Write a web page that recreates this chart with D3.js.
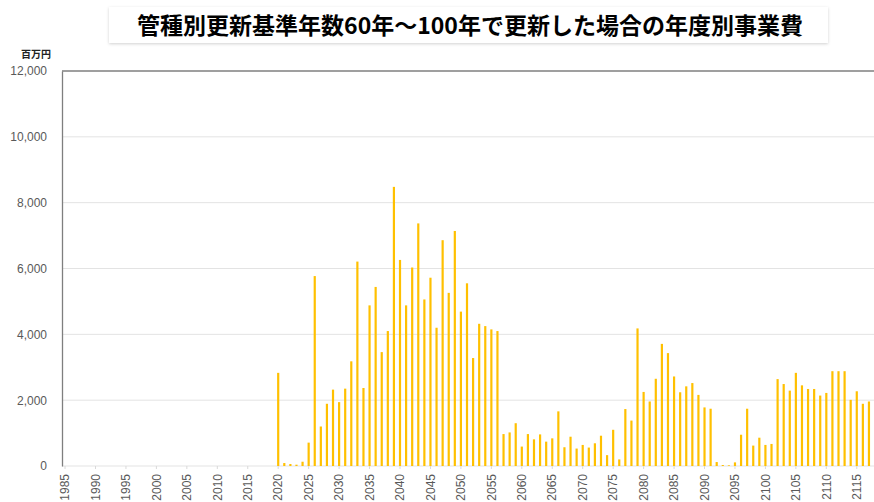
<!DOCTYPE html>
<html>
<head>
<meta charset="utf-8">
<script src="https://cdn.jsdelivr.net/npm/d3@7"></script>
<style>
  body { margin: 0; background: #fff; }
  svg { display: block; }
  .tick text { font-family: "Liberation Sans", Arial, sans-serif; fill: #595959; }
</style>
</head>
<body>
<svg id="chart"></svg>
<script>
// Size of the picture
const width = 874;
const height = 502;

// Chart texts
const titleText = "管種別更新基準年数60年～100年で更新した場合の年度別事業費";
const unitText = "百万円";

// Fiscal years (categories) 1985 - 2117
const years = d3.range(1985, 2118);

// Project cost per year (million yen), 1985 - 2019 : no renewal
const cost1985to2019 = [
  0, 0, 0, 0, 0, 0, 0, 0, 0, 0,
  0, 0, 0, 0, 0, 0, 0, 0, 0, 0,
  0, 0, 0, 0, 0, 0, 0, 0, 0, 0,
  0, 0, 0, 0, 0
];
// 2020 - 2117
const cost2020to2117 = [
  2830, 90, 60, 40, 130, 710, 5770, 1200, 1890, 2320,
  1940, 2350, 3180, 6210, 2370, 4880, 5440, 3460, 4100, 8480,
  6260, 4880, 6030, 7370, 5060, 5720, 4200, 6860, 5260, 7140,
  4690, 5550, 3280, 4320, 4250, 4150, 4100, 970, 1020, 1300,
  590, 970, 810, 960, 740, 840, 1660, 570, 890, 530,
  640, 560, 690, 920, 330, 1100, 200, 1730, 1380, 4180,
  2250, 1960, 2650, 3710, 3430, 2720, 2240, 2420, 2520, 2160,
  1780, 1740, 120, 30, 20, 110, 950, 1740, 620, 860,
  640, 670, 2640, 2490, 2290, 2830, 2450, 2340, 2340, 2140,
  2220, 2880, 2880, 2880, 2010, 2270, 1890, 1960
];
const costs = cost1985to2019.concat(cost2020to2117);

// Axis tick values
const yTicks = [0, 2000, 4000, 6000, 8000, 10000, 12000];
const xTickYears = years.filter(y => y % 5 === 0);

const data = years.map((y, i) => ({ year: y, value: costs[i] }));

// Plot area
const plotLeft = 62, plotRight = 872, plotTop = 71, plotBottom = 466;

const svg = d3.select("#chart")
    .attr("width", width)
    .attr("height", height);

// Title box with soft shadow
const defs = svg.append("defs");
const shadow = defs.append("filter").attr("id", "shadow")
    .attr("x", "-5%").attr("y", "-30%").attr("width", "110%").attr("height", "160%");
shadow.append("feDropShadow")
    .attr("dx", 0).attr("dy", 1).attr("stdDeviation", 1.5)
    .attr("flood-color", "#000").attr("flood-opacity", 0.18);

svg.append("rect")
    .attr("x", 109).attr("y", 7)
    .attr("width", 719).attr("height", 36)
    .attr("fill", "#fff")
    .attr("filter", "url(#shadow)");

svg.append("text")
    .attr("x", 470).attr("y", 34)
    .attr("text-anchor", "middle")
    .attr("font-family", "'Noto Sans CJK JP', sans-serif")
    .attr("font-weight", "bold")
    .attr("font-size", 23)
    .attr("fill", "#000")
    .text(titleText);

// Unit label
svg.append("text")
    .attr("x", 36).attr("y", 58)
    .attr("text-anchor", "middle")
    .attr("font-family", "'Noto Sans CJK JP', sans-serif")
    .attr("font-weight", "bold")
    .attr("font-size", 10)
    .attr("fill", "#222")
    .text(unitText);

// Scales
const x = d3.scaleBand()
    .domain(years)
    .range([plotLeft, plotRight])
    .paddingInner(0.64)
    .paddingOuter(0.32);

const y = d3.scaleLinear()
    .domain([0, 12000])
    .range([plotBottom, plotTop]);

// Horizontal grid lines
svg.append("g")
    .selectAll("line")
    .data(yTicks)
    .join("line")
    .attr("x1", plotLeft).attr("x2", width)
    .attr("y1", d => y(d)).attr("y2", d => y(d))
    .attr("stroke", d => d === 12000 ? "#7f7f7f" : "#e3e3e3")
    .attr("stroke-width", d => d === 12000 ? 1.5 : 1);

// Y axis
const yAxis = svg.append("g")
    .attr("transform", `translate(${plotLeft},0)`)
    .call(d3.axisLeft(y).tickValues(yTicks).tickFormat(d3.format(",")).tickSize(0).tickPadding(15));
yAxis.select(".domain").attr("stroke", "#7f7f7f").attr("stroke-width", 1.3);
yAxis.selectAll(".tick text").attr("font-size", 12);

// Bars
svg.append("g")
    .selectAll("rect")
    .data(data)
    .join("rect")
    .attr("x", d => x(d.year))
    .attr("y", d => y(d.value))
    .attr("width", x.bandwidth())
    .attr("height", d => y(0) - y(d.value))
    .attr("fill", "#FFC000");

// X axis with rotated year labels
const xAxis = svg.append("g")
    .attr("transform", `translate(0,${plotBottom})`)
    .call(d3.axisBottom(x).tickValues(xTickYears).tickSize(3));
xAxis.select(".domain").remove();
xAxis.selectAll(".tick line").attr("stroke", "#d9d9d9");
xAxis.selectAll(".tick text")
    .attr("font-size", 12)
    .attr("transform", "rotate(-90)")
    .attr("text-anchor", "end")
    .attr("x", -8)
    .attr("y", 0)
    .attr("dy", "0.35em");
</script>
</body>
</html>
